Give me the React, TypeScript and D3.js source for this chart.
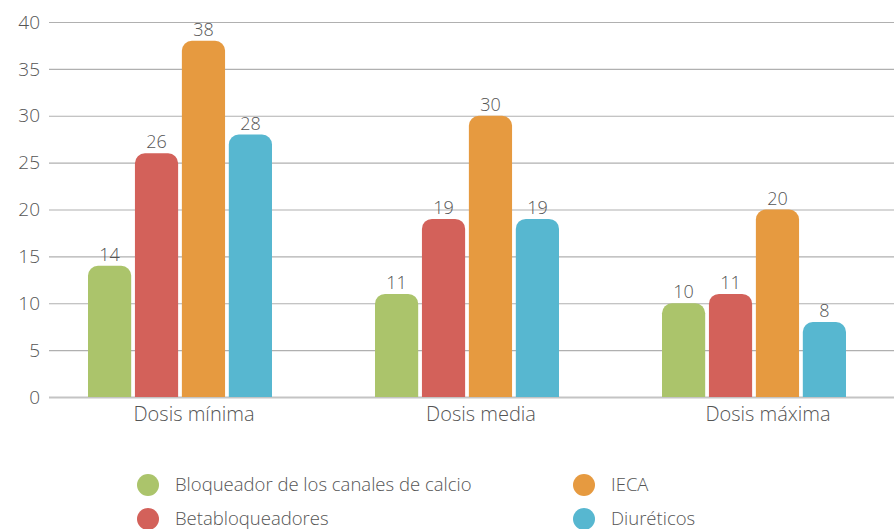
import { useRef, useEffect } from "react";
import * as d3 from "d3";

const categories = ["Dosis mínima", "Dosis media", "Dosis máxima"];
const series = ["Bloqueador de los canales de calcio", "Betabloqueadores", "IECA", "Diuréticos"];
const values = [
  [14, 26, 38, 28],
  [11, 19, 30, 19],
  [10, 11, 20, 8],
];
const yTicks = [0, 5, 10, 15, 20, 25, 30, 35, 40];

const COLORS = ["#abc46b", "#d3615a", "#e69a40", "#57b7d0"];
const FONT = "'Open Sans', 'Noto Sans', sans-serif";
const TEXT = "#555";

export default function App() {
  const ref = useRef<SVGSVGElement>(null);

  useEffect(() => {
    if (!ref.current) return;
    const W = 894;
    const svg = d3.select(ref.current);
    svg.selectAll("*").remove();

    const left = 49;
    const y = d3.scaleLinear().domain([0, 40]).range([397, 22]);
    const x0 = d3.scalePoint<string>().domain(categories).range([180, 754]);
    const x1 = d3.scaleBand<string>().domain(series).range([-92, 92]).paddingInner(0.08);

    // Grid + y labels
    yTicks.forEach((t) => {
      svg.append("line")
        .attr("x1", left).attr("x2", W)
        .attr("y1", y(t) + 0.5).attr("y2", y(t) + 0.5)
        .attr("stroke", t === 0 ? "#c4c4c4" : "#b0b0b0")
        .attr("stroke-width", t === 0 ? 2 : 1.2);
      svg.append("text")
        .attr("x", 40).attr("y", y(t)).attr("dy", "0.35em")
        .attr("text-anchor", "end")
        .attr("font-family", FONT).attr("font-weight", 300)
        .attr("font-size", 19).attr("fill", TEXT)
        .text(t);
    });

    const r = 10;
    categories.forEach((c, ci) => {
      const cx = x0(c)!;
      series.forEach((s, si) => {
        const v = values[ci][si];
        const bx = cx + x1(s)!;
        const bw = x1.bandwidth();
        const top = y(v);
        const base = y(0);
        const p = d3.path();
        p.moveTo(bx, base);
        p.lineTo(bx, top + r);
        p.arcTo(bx, top, bx + r, top, r);
        p.lineTo(bx + bw - r, top);
        p.arcTo(bx + bw, top, bx + bw, top + r, r);
        p.lineTo(bx + bw, base);
        p.closePath();
        svg.append("path").attr("d", p.toString()).attr("fill", COLORS[si]);
        svg.append("text")
          .attr("x", bx + bw / 2).attr("y", top - 5)
          .attr("text-anchor", "middle")
          .attr("font-family", FONT).attr("font-weight", 300)
          .attr("font-size", 18).attr("fill", TEXT)
          .text(v);
      });
      svg.append("text")
        .attr("x", cx + 14).attr("y", 421)
        .attr("text-anchor", "middle")
        .attr("font-family", FONT).attr("font-weight", 300)
        .attr("font-size", 20).attr("fill", TEXT)
        .text(c);
    });

    // Legend
    const legendPos = [[148, 485], [148, 519], [584, 485], [584, 519]];
    series.forEach((s, i) => {
      const [lx, ly] = legendPos[i];
      svg.append("circle").attr("cx", lx).attr("cy", ly).attr("r", 11).attr("fill", COLORS[i]);
      svg.append("text")
        .attr("x", lx + 27).attr("y", ly).attr("dy", "0.35em")
        .attr("font-family", FONT).attr("font-weight", 300)
        .attr("font-size", 18.5).attr("fill", TEXT)
        .text(s);
    });
  }, []);

  return (
    <svg
      ref={ref}
      width={894}
      height={529}
      style={{ position: "absolute", left: 0, top: 0, display: "block", background: "#fff" }}
    />
  );
}
